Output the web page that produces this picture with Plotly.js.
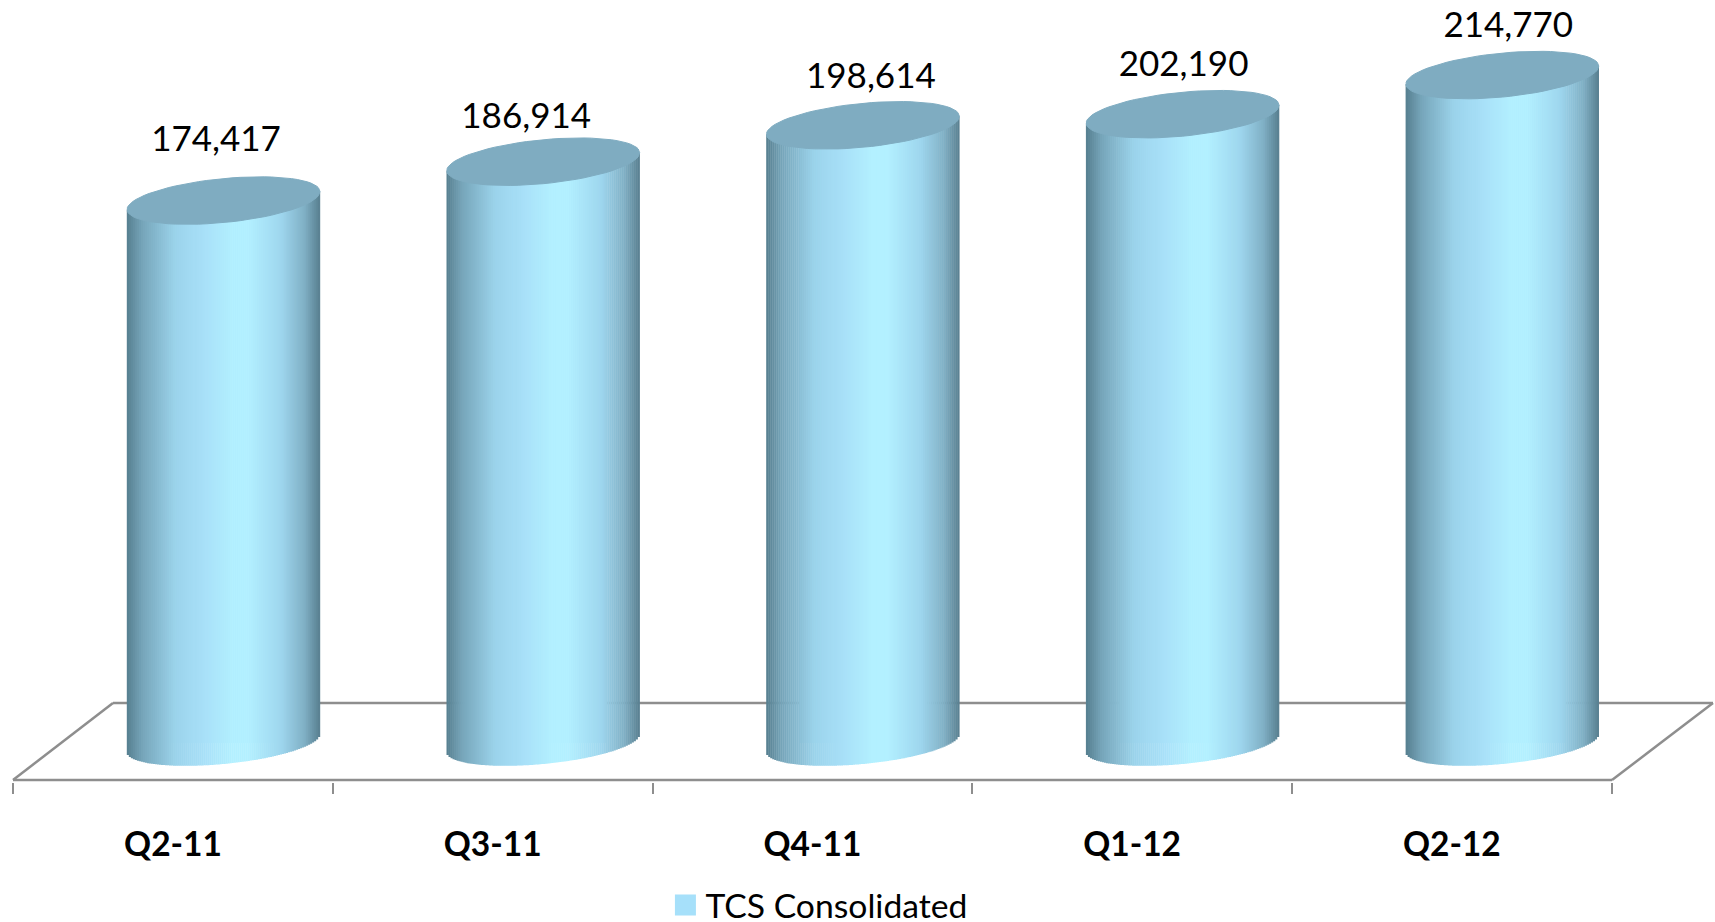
<!DOCTYPE html>
<html>
<head>
<meta charset="utf-8">
<script src="https://cdn.plot.ly/plotly-3.0.1.min.js"></script>
<style>html,body{margin:0;padding:0;background:#fff}#chart{width:1715px;height:922px}</style>
</head>
<body>
<div id="chart"></div>
<script>
var categories = ['Q2-11', 'Q3-11', 'Q4-11', 'Q1-12', 'Q2-12'];
var values = [174417, 186914, 198614, 202190, 214770];
var seriesName = 'TCS Consolidated';

/* Page scale */
var W = 1715, H = 922, plotBottom = 782;
var pxPerCat = 319.7, firstCatPx = 173;
var zeroPx = 743, pxPerUnit = 0.00311;
var xRange = [-firstCatPx / pxPerCat, (W - firstCatPx) / pxPerCat];
var yRange = [(zeroPx - plotBottom) / pxPerUnit, zeroPx / pxPerUnit];
function dx(px) { return px / pxPerCat; }
function dy(px) { return px / pxPerUnit; }
function X(px) { return (px - firstCatPx) / pxPerCat; }
function Y(px) { return (zeroPx - px) / pxPerUnit; }

/* Cylinder geometry */
var depth = dx(50.5), halfW = dx(96.5), tilt = dy(9), topB = dy(22), botB = dy(21);
var gradPos = [0, 0.08, 0.25, 0.4, 0.55, 0.63, 0.8, 0.92, 1];
var gradCol = [[86,127,143],[118,165,185],[155,211,235],[168,224,248],[179,240,255],[179,240,255],[158,214,238],[128,176,197],[88,127,143]];
function grad(t) {
  for (var k = 1; k < gradPos.length; k++) {
    if (t <= gradPos[k]) {
      var f = (t - gradPos[k-1]) / (gradPos[k] - gradPos[k-1]);
      var c = gradCol[k-1].map(function (v, j) { return Math.round(v + f * (gradCol[k][j] - v)); });
      return 'rgb(' + c.join(',') + ')';
    }
  }
  return 'rgb(88,127,143)';
}

var labelDx = [-7.5, -17, 8, 1, 6];
var labelDy = [58, 42, 46, 47, 47];
var topColor = '#7facc1', floorColor = '#8e8e8e';
var font = 'Lato, "Open Sans", sans-serif';

var traces = [{
  type: 'bar', x: categories, y: values, name: seriesName, showlegend: false,
  width: 0.4, offset: depth - 0.2, marker: {color: '#a6e0fa', line: {width: 0}}, hoverinfo: 'skip'
}];

var N = 96;
values.forEach(function (v, i) {
  var cx = i + depth, xs = [], bases = [], hs = [], cols = [];
  for (var k = 0; k < N; k++) {
    var t = (k + 0.5) / N, u = 2 * t - 1;
    var lower = tilt * u - botB * Math.sqrt(1 - u * u);
    var upper = v + tilt * u;
    xs.push(cx + u * halfW); bases.push(lower); hs.push(upper - lower); cols.push(grad(t));
  }
  traces.push({
    type: 'bar', xaxis: 'x2', x: xs, base: bases, y: hs, width: 2 * halfW / N * 1.2,
    marker: {color: cols, line: {width: 0}}, showlegend: false, hoverinfo: 'skip'
  });
});

values.forEach(function (v, i) {
  var cx = i + depth, ex = [], ey = [];
  for (var a = 0; a <= 72; a++) {
    var th = a / 72 * 2 * Math.PI, c = Math.cos(th), s = Math.sin(th);
    ex.push(cx + halfW * c);
    ey.push(v + tilt * c + topB * s);
  }
  traces.push({
    type: 'scatter', mode: 'lines', xaxis: 'x2', x: ex, y: ey, fill: 'toself',
    fillcolor: topColor, line: {color: topColor, width: 1}, showlegend: false, hoverinfo: 'skip'
  });
});

traces.push({
  type: 'scatter', mode: 'text', xaxis: 'x2',
  x: values.map(function (v, i) { return i + depth + dx(labelDx[i]); }),
  y: values.map(function (v, i) { return v + dy(labelDy[i]); }),
  text: values.map(function (v) { return v.toLocaleString('en-US'); }),
  textposition: 'middle center', cliponaxis: false,
  textfont: {family: font, size: 35, color: '#000'}, showlegend: false, hoverinfo: 'skip'
});

traces.push({
  type: 'scatter', mode: 'markers', xaxis: 'x2', x: [null], y: [null], name: seriesName,
  marker: {symbol: 'square', size: 16, color: '#a6e0fa', line: {color: '#a6e0fa', width: 5}},
  showlegend: true, hoverinfo: 'skip'
});

function floorLine(x0, p0, x1, p1) {
  return {type: 'line', xref: 'x2', yref: 'y', layer: 'below',
    x0: X(x0), y0: Y(p0), x1: X(x1), y1: Y(p1),
    line: {color: floorColor, width: 2.5}};
}
var shapes = [
  floorLine(13, 780, 1612, 780),
  floorLine(13, 780, 113, 703),
  floorLine(113, 703, 1713, 703),
  floorLine(1713, 703, 1612, 780)
];

var layout = {
  width: W, height: H, paper_bgcolor: '#fff', plot_bgcolor: '#fff',
  margin: {l: 0, r: 0, t: 0, b: H - plotBottom, pad: 0, autoexpand: false},
  barmode: 'overlay', showlegend: true, shapes: shapes,
  xaxis: {
    type: 'category', categoryorder: 'array', categoryarray: categories, range: xRange,
    showline: false, showgrid: false, zeroline: false, ticks: 'outside', tickson: 'boundaries',
    ticklen: 11, tickwidth: 2, tickcolor: floorColor,
    ticklabelstandoff: 39,
    tickfont: {family: font, size: 33.5, color: '#000', weight: 'bold'}
  },
  xaxis2: {range: xRange, overlaying: 'x', visible: false, fixedrange: true},
  yaxis: {range: yRange, visible: false, fixedrange: true},
  legend: {
    orientation: 'h', x: 0.388, y: (plotBottom - 905) / plotBottom, xanchor: 'left', yanchor: 'middle',
    bgcolor: 'rgba(0,0,0,0)', font: {family: font, size: 33.7, color: '#000'}, itemclick: false, itemdoubleclick: false
  }
};
Plotly.newPlot('chart', traces, layout, {displayModeBar: false, responsive: false});
</script>
</body>
</html>
